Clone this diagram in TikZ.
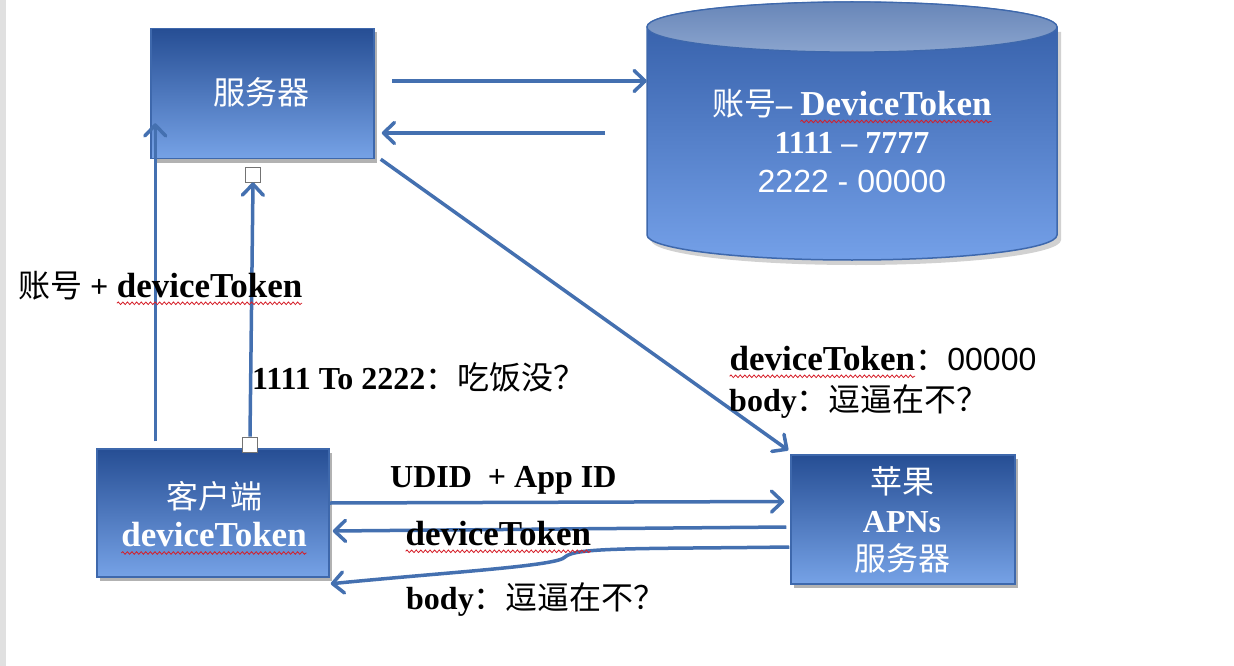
\documentclass[tikz,border=0pt]{standalone}
\usepackage{fontspec}
\setmainfont{Liberation Serif}
\newfontfamily\cjk{Noto Sans CJK SC}
\newfontfamily\sansf{Liberation Sans}
\usetikzlibrary{arrows.meta,calc,shadows,decorations.pathmorphing}
\definecolor{boxtop}{RGB}{38,78,148}
\definecolor{boxbot}{RGB}{118,162,230}
\definecolor{boxborder}{RGB}{62,104,172}
\definecolor{cyltop}{RGB}{50,92,166}
\definecolor{cylbot}{RGB}{116,160,232}
\definecolor{captop}{RGB}{104,134,184}
\definecolor{capbot}{RGB}{138,164,206}
\definecolor{arrowblue}{RGB}{68,112,176}
\definecolor{squigred}{RGB}{214,30,40}
\definecolor{edgegray}{RGB}{224,224,224}
\newcommand\zh[1]{{\cjk\mdseries #1}}
\newcommand\sq[2][black]{\tikz[baseline=(sqw.base)]{\node[inner sep=0pt,outer sep=0pt,text=#1,anchor=base,font=\fontsize{35}{38.5}\selectfont\bfseries] (sqw) {#2};\draw[squigred,line width=0.8pt,decorate,decoration={snake,amplitude=1.3pt,segment length=4.6pt}] ([yshift=-6pt]sqw.base west) -- ([yshift=-6pt]sqw.base east);}}
\begin{document}
\begin{tikzpicture}[x=1pt,y=-1pt,
  box/.style={draw=boxborder,line width=1.5pt,top color=boxtop,bottom color=boxbot,inner sep=0pt,
    drop shadow={shadow xshift=3pt,shadow yshift=-4pt,opacity=0.3,fill=black}},
  wtext/.style={text=white,align=center,inner sep=0pt,font=\fontsize{32}{38.5}\selectfont\bfseries},
  lbl/.style={anchor=west,inner sep=0pt,font=\fontsize{32}{38.5}\selectfont\bfseries},
  arr/.style={draw=arrowblue,line width=3.5pt,-{Straight Barb[length=11pt,width=21pt,round]}},
  tinysq/.style={draw=black!55,fill=white,line width=0.8pt,minimum size=15pt,inner sep=0pt}]
\useasboundingbox (0,0) rectangle (1234,666);
\fill[white] (0,0) rectangle (1234,666);
\fill[edgegray] (0,0) rectangle (6,666);

% database cylinder
\node[inner sep=0pt,minimum width=410pt,minimum height=258pt] (db) at (852,131) {};
\fill[black,opacity=0.18,shift={(4,5)}] (647,27) -- (647,235) arc[start angle=180,end angle=360,x radius=205pt,y radius=25pt] -- (1057,27) -- cycle;
\shadedraw[top color=cyltop,bottom color=cylbot,draw=boxborder,line width=1.5pt]
  (647,27) -- (647,235) arc[start angle=180,end angle=360,x radius=205pt,y radius=25pt]
  -- (1057,27) arc[start angle=0,end angle=180,x radius=205pt,y radius=25pt] -- cycle;
\shadedraw[top color=captop,bottom color=capbot,draw=boxborder,line width=1.2pt]
  (852,27) ellipse [x radius=205pt,y radius=25pt];
\node[wtext] (dbt) at (852,141) {\zh{账号}– \sq[white]{DeviceToken}\\1111 – 7777\\{\sansf\mdseries 2222 - 00000}};

% boxes
\node[box,minimum width=223pt,minimum height=130pt] (server) at (262.5,93.5) {};
\node[wtext] (servert) at (261,92) {\zh{服务器}};
\node[box,minimum width=232pt,minimum height=128pt] (client) at (213,513) {};
\node[wtext] (clientt) at (214,518) {\zh{客户端}\\\sq[white]{deviceToken}};
\node[box,minimum width=224pt,minimum height=129pt] (apns) at (903,519.5) {};
\node[wtext] (apnst) at (902,520) {\zh{苹果}\\APNs\\\zh{服务器}};

% small squares
\node[tinysq] (sqa) at (253,174.5) {};
\node[tinysq] (sqb) at (250,444.5) {};

% connectors
\coordinate (a1s) at (392,81);
\draw[arr] (a1s) -- (db.west |- a1s);
\coordinate (a2s) at (605,133);
\draw[arr] (a2s) -- ($(server.east |- a2s)+(7,0)$);
\draw[arr] ($(server.south east)+(6,0)$) -- ($(apns.north west)+(-2,-4)$);
\draw[arr] ($(client.north west)+(59,-7)$) -- ($(server.south west)+(5,-36)$);
\draw[arr] (sqb.north) -- (sqa.south);
\draw[arr] ($(client.east)+(0,-10)$) -- ($(apns.west)+(-6,-18)$);
\draw[arr] ($(apns.west)+(-4,7.5)$) -- ($(client.east)+(3,18)$);
\draw[arr] ($(apns.west)+(-1,27.5)$) .. controls (640,549) and (575,547) .. (565,557)
  .. controls (558,566) and (450,572) .. ($(client.south east)+(1,6)$);

% labels
\node[lbl] (l1) at (18,288) {\zh{账号} + \sq{deviceToken}};
\node[lbl] (l2) at (252,377) {1111 To 2222\zh{：吃饭没？}};
\node[lbl] (l3) at (729,362) {\sq{deviceToken}\zh{：}{\sansf\mdseries 00000}};
\node[lbl] (l4) at (729,402) {body\zh{：逗逼在不？}};
\node[lbl] (l5) at (390,480) {UDID\ \ + App ID};
\node[lbl] (l6) at (405,537) {\sq{deviceToken}};
\node[lbl] (l7) at (406,600) {body\zh{：逗逼在不？}};
\end{tikzpicture}
\end{document}
